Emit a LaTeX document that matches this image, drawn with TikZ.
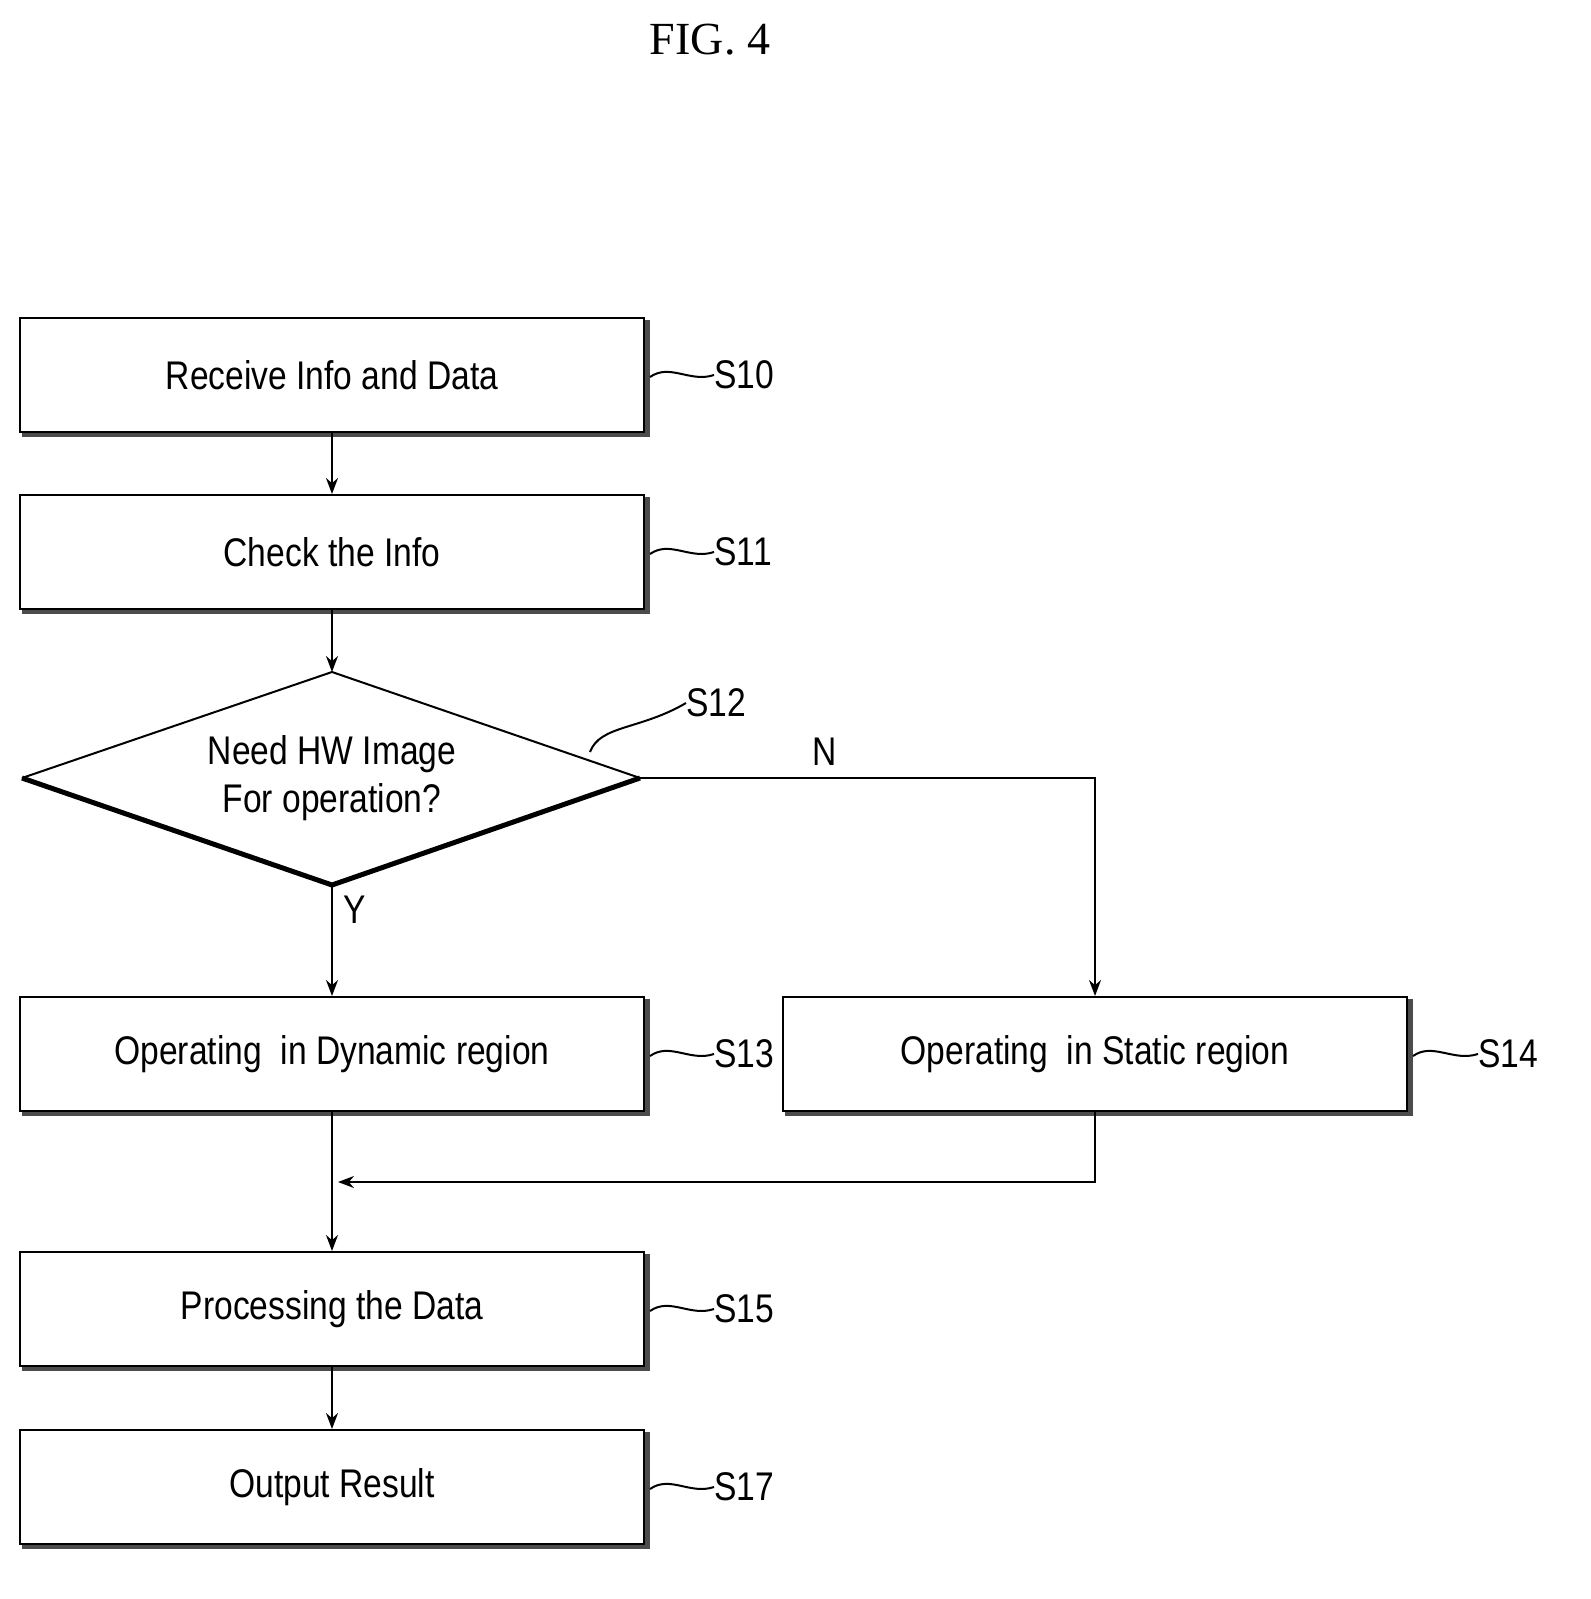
\documentclass[tikz,border=0pt]{standalone}
\usetikzlibrary{arrows.meta}
\usepackage{fontspec}
\setmainfont{Liberation Serif}
\newfontfamily\lbl[FakeStretch=0.84]{Liberation Sans}
\begin{document}
\begin{tikzpicture}[x=0.5pt,y=-0.5pt,
  box/.style={draw,fill=white,line width=1pt,minimum width=312pt,minimum height=57pt,inner sep=0pt,font=\lbl\fontsize{20}{23}\selectfont},
  shad/.style={line width=2.5pt,gray!60!black},
  arr/.style={line width=1pt,-{Stealth[length=8pt,width=6pt]}},
  ln/.style={line width=1pt},
  tag/.style={font=\lbl\fontsize{20}{23}\selectfont,anchor=west,inner sep=0pt}]
\useasboundingbox (0,0) rectangle (1590,1599);
\node[font=\fontsize{23}{27}\selectfont] (title) at (710,40) {FIG. 4};
\foreach \n/\x/\y/\t in {s10/332/375/Receive Info and Data, s11/332/552/Check the Info, s13/332/1054/Operating\ \ in Dynamic region, s14/1095/1054/Operating\ \ in Static region, s15/332/1309/Processing the Data, s17/332/1487/Output Result}{
  \draw[shad] (\x-310,\y+59) -- (\x+315,\y+59) -- (\x+315,\y-55);
  \node[box] (\n) at (\x,\y) {\t};
}
\coordinate (dl) at (22,778); \coordinate (dr) at (640,778);
\coordinate (dt) at (332,672); \coordinate (db) at (332,885);
\draw[ln] (dl) -- (dt) -- (dr);
\draw[line width=2.5pt] (dl) -- (db) -- (dr);
\node[font=\lbl\fontsize{20}{24}\selectfont,align=center] (d) at (332,778) {Need HW Image\\For operation?};
\draw[arr] (s10.south) -- (s11.north);
\draw[arr] (s11.south) -- (dt);
\draw[arr] (db) -- (s13.north);
\draw[arr] (dr) -- (1095,778) -- (s14.north);
\coordinate (m1) at (1095,1182); \coordinate (m2) at (338,1182);
\draw[ln] (s14.south -| m1) -- (m1) -- (400,1182);
\draw[arr] (400,1182) -- (m2);
\draw[arr] (s13.south) -- (s15.north);
\draw[arr] (s15.south) -- (s17.north);
\node[font=\lbl\fontsize{20}{23}\selectfont] (N) at (825,752) {N};
\node[font=\lbl\fontsize{20}{23}\selectfont] (Y) at (355,910) {Y};
\foreach \n/\y/\t in {s10/375/S10, s11/552/S11, s13/1054/S13, s15/1309/S15, s17/1487/S17}{
  \node[tag] (t\n) at (714,\y) {\t};
  \draw[ln] (650,\y+2) .. controls (670,\y-12) and (690,\y+8) .. (t\n.west);
}
\node[tag] (ts14) at (1478,1054) {S14};
\draw[ln] (1413,1056) .. controls (1433,1042) and (1453,1062) .. (ts14.west);
\node[tag] (ts12) at (686,703) {S12};
\draw[ln] (590,752) .. controls (600,725) and (640,730) .. (ts12.west);
\end{tikzpicture}
\end{document}
